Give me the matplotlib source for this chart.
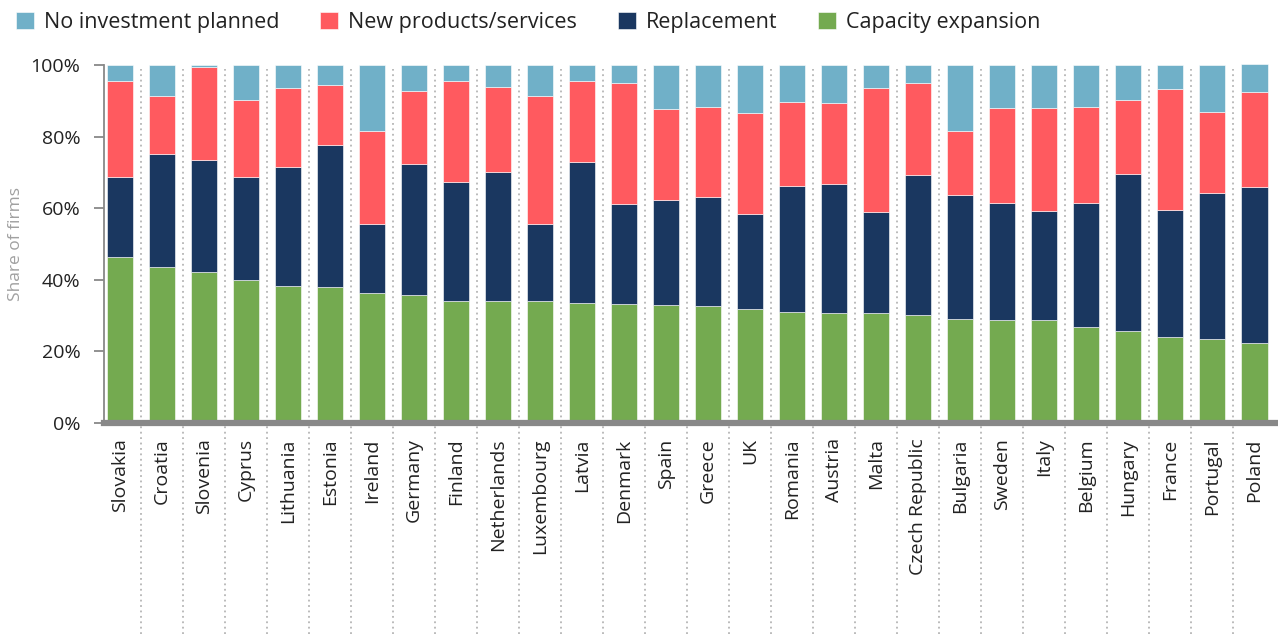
import numpy as np
import matplotlib
matplotlib.use("Agg")
from matplotlib import pyplot as plt
from matplotlib.ticker import PercentFormatter

plt.rcParams['font.family'] = ['Open Sans', 'DejaVu Sans']

countries = ["Slovakia", "Croatia", "Slovenia", "Cyprus", "Lithuania", "Estonia", "Ireland",
             "Germany", "Finland", "Netherlands", "Luxembourg", "Latvia", "Denmark", "Spain",
             "Greece", "UK", "Romania", "Austria", "Malta", "Czech Republic", "Bulgaria",
             "Sweden", "Italy", "Belgium", "Hungary", "France", "Portugal", "Poland"]

capacity = [46.5, 43.7, 42.2, 39.9, 38.2, 38.0, 36.2, 35.8, 34.2, 34.1, 34.1, 33.5, 33.2, 33.0,
            32.7, 31.8, 30.9, 30.7, 30.6, 30.2, 29.1, 28.8, 28.8, 26.9, 25.8, 24.0, 23.6, 22.3]
replacement = [22.3, 31.4, 31.4, 28.7, 33.3, 39.7, 19.5, 36.7, 33.0, 36.1, 21.6, 39.5, 28.1, 29.4,
               30.4, 26.7, 35.4, 36.2, 28.4, 39.0, 34.7, 32.7, 30.5, 34.6, 43.8, 35.4, 40.7, 43.5]
new_products = [26.7, 16.3, 25.9, 21.6, 22.2, 16.6, 25.8, 20.3, 28.4, 23.7, 35.7, 22.6, 33.6, 25.3,
                25.1, 28.0, 23.3, 22.4, 34.7, 25.8, 17.8, 26.4, 28.6, 26.7, 20.6, 34.0, 22.7, 26.8]
no_investment = [4.5, 8.6, 0.5, 9.8, 6.3, 5.7, 18.5, 7.2, 4.4, 6.1, 8.6, 4.4, 5.1, 12.3,
                 11.8, 13.5, 10.4, 10.7, 6.3, 5.0, 18.4, 12.1, 12.1, 11.8, 9.8, 6.6, 13.0, 7.8]

series = [
    ("Capacity expansion", capacity, "#74AA50"),
    ("Replacement", replacement, "#1A3760"),
    ("New products/services", new_products, "#FF5A5F"),
    ("No investment planned", no_investment, "#70B0C8"),
]

fig = plt.figure(figsize=(12.78, 6.38), dpi=100)
ax = fig.add_axes([0.0814, 0.337, 0.9163, 0.561])

x = np.arange(len(countries))
bottom = np.zeros(len(countries))
handles = {}
for name, vals, color in series:
    bars = ax.bar(x, vals, 0.64, bottom=bottom, color=color, edgecolor="white",
                  linewidth=0.4, clip_on=False, zorder=3, label=name)
    handles[name] = bars
    bottom += np.array(vals)

# dotted separators between countries, running down past the labels
for i in range(len(countries) - 1):
    ax.axvline(i + 0.5, ymin=-0.59, ymax=0.99, color="#b5b5b5", linestyle=(0, (1, 2)),
               linewidth=1.3, clip_on=False, zorder=1)

ax.set_xlim(-0.38, 27.5)
ax.set_ylim(0, 100)
ax.set_xticks(x)
ax.set_xticklabels(countries, rotation=90, fontsize=14, color="#222222")
ax.tick_params(axis="x", length=0, pad=11)
ax.set_yticks(np.arange(0, 101, 20))
ax.yaxis.set_major_formatter(PercentFormatter(decimals=0))
ax.tick_params(axis="y", labelsize=14, labelcolor="#222222", color="#888888",
               length=7, width=1.3, direction="out", pad=10)
ax.set_ylabel("Share of firms", fontsize=12.5, color="#a0a0a0", labelpad=5)

for side in ["top", "right"]:
    ax.spines[side].set_visible(False)
ax.spines["left"].set_color("#888888")
ax.spines["left"].set_linewidth(1.3)
ax.spines["bottom"].set_color("#888888")
ax.spines["bottom"].set_linewidth(4.5)
ax.spines["bottom"].set_zorder(4)

order = ["No investment planned", "New products/services", "Replacement", "Capacity expansion"]
fig.legend([handles[n] for n in order], order, loc="upper left", bbox_to_anchor=(-0.003, 1.012),
           ncol=4, frameon=False, fontsize=15.5, handlelength=0.85, handleheight=0.85,
           handletextpad=0.45, columnspacing=1.9, labelcolor="#222222")

fig.savefig("out.png", dpi=100)
